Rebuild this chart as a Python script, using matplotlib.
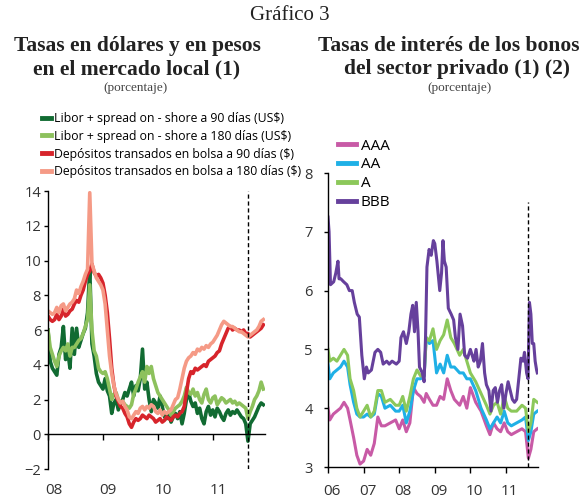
import numpy as np
import matplotlib.pyplot as plt

# ---- left chart: tasas en dolares y en pesos (grid every 0.04 yr, 2008.00-2011.92)
years_left = np.round(np.arange(99) * 0.04 + 2008.0, 2)

dep_90 = [6.8, 6.6, 6.5, 6.6, 6.9, 6.6, 6.8, 7.2, 6.8, 6.9, 7.1, 7.2, 7.5, 7.7, 7.6, 8.0, 8.3, 8.8, 9.2, 9.4, 9.8, 9.3, 9.1, 9.2, 9.0,
          8.7, 8.0, 7.0, 5.5, 3.8, 2.8, 2.2, 1.9, 1.6, 1.5, 1.2, 1.0, 0.6, 0.4, 0.7, 0.9, 0.8, 0.9, 1.1, 1.0, 0.9, 1.1, 1.0, 0.9, 0.7,
          0.8, 0.9, 0.7, 0.8, 1.0, 0.9, 0.8, 1.0, 1.1, 1.0, 1.2, 1.3, 1.6, 2.4, 3.2, 3.6, 3.5, 3.8, 3.7, 3.8, 3.9, 4.0, 3.9, 4.2, 4.3,
          4.4, 4.5, 4.7, 4.8, 5.2, 5.5, 5.8, 6.1, 6.2, 6.0, 6.1, 6.0, 6.0, 5.9, 6.0, 5.8, 5.8, 5.6, 5.7, 5.8, 5.9, 6.0, 6.1, 6.3]
dep_180 = [7.1, 7.0, 6.9, 7.0, 7.3, 7.0, 7.4, 7.5, 7.1, 7.3, 7.5, 7.6, 7.8, 8.3, 8.1, 8.5, 8.8, 9.2, 9.5, 13.9, 9.8, 9.4, 9.0, 8.8, 8.6,
           8.3, 7.5, 6.0, 4.5, 3.5, 2.8, 2.3, 2.0, 1.8, 1.9, 1.6, 1.4, 1.0, 0.9, 1.1, 1.3, 1.2, 1.5, 1.6, 1.4, 1.6, 1.5, 1.7, 1.6, 1.3,
           1.2, 1.4, 1.1, 1.3, 1.2, 1.3, 1.4, 1.7, 2.0, 2.1, 2.6, 3.2, 3.8, 4.2, 4.4, 4.5, 4.7, 4.6, 4.9, 4.8, 5.0, 4.9, 5.1, 5.0, 5.2,
           5.3, 5.5, 5.7, 6.0, 6.3, 6.5, 6.4, 6.3, 6.2, 6.2, 6.1, 6.0, 5.9, 5.9, 5.8, 5.7, 5.6, 5.7, 5.8, 5.9, 6.0, 6.2, 6.5, 6.6]
libor_90 = [6.0, 4.2, 3.8, 3.6, 3.4, 4.6, 5.0, 6.2, 4.3, 4.8, 3.8, 6.1, 4.6, 6.1, 5.0, 5.4, 5.8, 6.1, 7.0, 9.5, 5.2, 4.5, 3.5, 3.0, 2.8,
            2.6, 3.2, 2.5, 2.2, 1.2, 1.8, 2.0, 1.4, 1.8, 2.0, 2.4, 2.2, 2.6, 3.0, 2.2, 2.8, 2.5, 3.2, 4.9, 2.6, 3.0, 2.0, 1.3, 2.0, 1.8,
            1.5, 2.2, 1.6, 1.0, 0.9, 1.2, 0.7, 1.0, 1.2, 0.9, 1.3, 0.6, 1.2, 2.0, 2.4, 1.9, 1.6, 1.8, 1.2, 1.5, 0.9, 0.6, 1.3, 1.6, 1.1,
            1.4, 1.0, 1.5, 1.3, 1.0, 0.8, 1.2, 1.4, 1.1, 1.3, 1.2, 1.4, 1.2, 1.0, 0.9, 0.6, -0.4, 0.6, 0.8, 1.0, 1.3, 1.6, 1.8, 1.7]
libor_180 = [6.0, 5.0, 4.6, 4.2, 3.9, 4.5, 4.8, 5.0, 4.8, 5.2, 4.5, 5.0, 5.0, 5.2, 5.4, 5.5, 5.8, 6.2, 6.6, 8.6, 6.0, 4.8, 4.5, 3.8, 3.6,
             3.5, 3.6, 3.2, 2.6, 2.0, 2.3, 2.4, 2.0, 1.8, 1.9, 1.7, 1.6, 1.5, 1.7, 2.3, 2.6, 3.0, 3.3, 3.6, 3.0, 3.9, 3.5, 3.9, 3.2, 2.8,
             2.4, 2.2, 2.0, 1.8, 1.6, 1.4, 1.1, 1.3, 1.5, 1.6, 1.7, 1.9, 2.2, 2.7, 2.4, 2.3, 2.6, 2.2, 2.4, 2.0, 1.8, 2.3, 2.6, 2.0, 1.8,
             2.1, 2.2, 1.7, 1.9, 2.1, 2.0, 1.8, 1.9, 2.0, 1.8, 1.9, 1.7, 1.8, 1.7, 1.6, 1.5, 0.9, 1.3, 1.6, 2.0, 2.2, 2.5, 3.0, 2.6]

# ---- right chart: tasas de interes de bonos privados
years_bonos = [2006.00, 2006.05, 2006.15, 2006.25, 2006.35, 2006.45, 2006.55, 2006.62, 2006.72, 2006.81, 2006.90,
               2007.0, 2007.1, 2007.2, 2007.3, 2007.4, 2007.5, 2007.6, 2007.75, 2007.9,
               2008.0, 2008.1, 2008.2, 2008.3, 2008.4, 2008.5, 2008.6, 2008.7, 2008.76, 2008.85, 2008.95,
               2009.05, 2009.15, 2009.25, 2009.35, 2009.45, 2009.55, 2009.7, 2009.8, 2009.9,
               2010.0, 2010.15, 2010.3, 2010.45, 2010.55, 2010.65, 2010.75, 2010.85, 2010.95,
               2011.05, 2011.15, 2011.3, 2011.45, 2011.55, 2011.63, 2011.7, 2011.78, 2011.88]
bono_a = [5.0, 4.8, 4.85, 4.8, 4.9, 5.0, 4.9, 4.5, 4.3, 4.0, 3.85,
          3.95, 4.05, 3.85, 3.95, 4.3, 4.3, 4.1, 4.15, 4.05,
          4.05, 4.2, 3.95, 4.2, 4.5, 4.65, 4.55, 4.55, 5.2, 5.15, 5.35,
          5.0, 5.15, 5.25, 5.5, 5.2, 5.1, 4.9, 5.0, 4.8,
          4.6, 4.45, 4.25, 4.05, 3.9, 4.05, 4.1, 3.9, 4.2,
          4.0, 3.95, 3.95, 4.05, 4.0, 3.6, 3.75, 4.15, 4.1]
bono_aa = [4.75, 4.5, 4.6, 4.65, 4.7, 4.8, 4.7, 4.4, 4.1, 3.9, 3.85,
           3.85, 3.9, 3.85, 3.9, 4.25, 4.2, 4.0, 4.05, 3.95,
           3.95, 4.05, 3.75, 3.95, 4.3, 4.5, 4.5, 4.55, 5.2, 5.1, 5.15,
           4.6, 4.75, 4.6, 4.9, 4.7, 4.7, 4.6, 4.6, 4.5,
           4.5, 4.3, 4.0, 3.8, 3.65, 3.75, 3.85, 3.75, 3.95,
           3.75, 3.7, 3.75, 3.8, 3.85, 3.45, 3.6, 3.9, 3.95]
bono_aaa = [4.0, 3.8, 3.9, 3.95, 4.0, 4.1, 4.0, 3.8, 3.5, 3.2, 3.05,
            3.1, 3.3, 3.2, 3.4, 3.85, 3.7, 3.7, 3.75, 3.8,
            3.65, 3.8, 3.6, 3.75, 4.35, 4.25, 4.2, 4.1, 4.25, 4.15, 4.05,
            4.05, 4.2, 4.15, 4.5, 4.3, 4.15, 4.05, 4.2, 4.0,
            4.35, 4.1, 3.95, 3.7, 3.55, 3.75, 3.65, 3.6, 3.75,
            3.6, 3.55, 3.6, 3.65, 3.6, 3.15, 3.3, 3.6, 3.65]
years_bbb = [2006.00, 2006.03, 2006.07, 2006.16, 2006.22, 2006.28, 2006.31, 2006.36, 2006.44, 2006.53, 2006.60, 2006.68,
             2006.74, 2006.82, 2006.88, 2006.95, 2007.02, 2007.08, 2007.13, 2007.22, 2007.32, 2007.40, 2007.48, 2007.55,
             2007.65, 2007.72, 2007.80, 2007.92, 2008.0, 2008.05, 2008.12, 2008.2, 2008.27, 2008.33, 2008.38, 2008.43,
             2008.48, 2008.53, 2008.57, 2008.65, 2008.70, 2008.74, 2008.78, 2008.84, 2008.90, 2008.96, 2009.0, 2009.06,
             2009.14, 2009.19, 2009.23, 2009.27, 2009.32, 2009.38, 2009.46, 2009.53, 2009.58, 2009.65, 2009.71, 2009.78,
             2009.84, 2009.92, 2010.0, 2010.05, 2010.10, 2010.16, 2010.22, 2010.28, 2010.34, 2010.40, 2010.45, 2010.52,
             2010.58, 2010.64, 2010.70, 2010.76, 2010.82, 2010.88, 2010.94, 2011.0, 2011.06, 2011.12, 2011.18, 2011.24,
             2011.30, 2011.36, 2011.42, 2011.48, 2011.52, 2011.58, 2011.62, 2011.66, 2011.70, 2011.74, 2011.78, 2011.82,
             2011.86, 2011.88]
bono_bbb = [7.25, 7.0, 6.1, 6.15, 6.3, 6.5, 6.2, 6.2, 6.15, 6.1, 6.0, 6.0,
            5.8, 5.6, 5.55, 4.9, 4.5, 4.7, 4.6, 4.65, 4.95, 5.0, 4.95, 4.75,
            4.8, 4.75, 4.8, 4.75, 4.8, 5.2, 5.3, 5.1, 5.3, 5.6, 5.75, 5.3,
            5.8, 5.3, 4.7, 4.6, 4.45, 5.2, 6.4, 6.7, 6.6, 6.85, 6.8, 6.5,
            6.0, 6.3, 6.85, 6.5, 6.4, 5.7, 5.6, 5.5, 5.2, 5.0, 5.6, 5.4,
            4.9, 4.85, 5.0, 4.9, 4.8, 5.0, 4.7, 4.8, 5.1, 4.6, 4.4, 4.3,
            3.95, 4.3, 4.35, 4.1, 4.3, 4.4, 4.0, 4.25, 4.45, 4.3, 4.15, 4.1,
            4.15, 4.5, 4.85, 4.8, 4.95, 4.6, 4.5, 5.8, 5.6, 5.1, 5.1, 4.8,
            4.65, 4.6]

# ---- figure
SERIF = 'Liberation Serif'
SANS = 'Open Sans'
TXT = '#333333'

fig = plt.figure(figsize=(5.83, 4.98), dpi=100)

fig.text(290 / 583, 1 - 15 / 498, 'Gráfico 3', ha='center', va='center', family=SERIF, size=15, color='#222222')
for x, y, s in [(137, 46, 'Tasas en dólares y en pesos'), (137, 69, 'en el mercado local (1)'),
                (449, 46, 'Tasas de interés de los bonos'), (457, 69, 'del sector privado (1) (2)')]:
    fig.text(x / 583, 1 - y / 498, s, ha='center', va='center', family=SERIF, size=15.5, weight='bold', color='#222222')
for x in [136, 459]:
    fig.text(x / 583, 1 - 88 / 498, '(porcentaje)', ha='center', va='center', family=SERIF, size=9.5, color='#444444')


def style_axes(ax):
    for s in ['top', 'right']:
        ax.spines[s].set_visible(False)
    ax.spines['left'].set_linewidth(1.0)
    ax.spines['bottom'].set_linewidth(1.0)
    ax.tick_params(axis='both', colors='black', labelcolor=TXT, labelsize=10.5, width=1.0)
    for lab in ax.get_yticklabels():
        lab.set_family(SANS)


# left panel
ax1 = fig.add_axes([48 / 583, 1 - 469 / 498, 217 / 583, 278 / 498])
ax1.plot(years_left, libor_90, color='#116b32', lw=2.6, label='Libor + spread on - shore a 90 días (US$)')
ax1.plot(years_left, libor_180, color='#8dc15d', lw=2.6, label='Libor + spread on - shore a 180 días (US$)')
ax1.plot(years_left, dep_90, color='#d7242b', lw=2.6, label='Depósitos transados en bolsa a 90 días ($)')
ax1.plot(years_left, dep_180, color='#f59a86', lw=2.6, label='Depósitos transados en bolsa a 180 días ($)')
ax1.axvline(2011.64, color='black', lw=1.0, ls=(0, (3, 2)))
ax1.set_xlim(2008.0, 2011.95)
ax1.set_ylim(-2, 14)
ax1.set_yticks(range(-2, 15, 2))
ax1.spines['bottom'].set_position(('data', 0))
ax1.set_xticks([2008, 2009, 2010, 2011])
ax1.set_xticklabels([])
ax1.tick_params(axis='x', length=4, direction='out')
ax1.tick_params(axis='y', length=3, direction='out', pad=2)
style_axes(ax1)
for yr, lab in zip([2008, 2009, 2010, 2011], ['08', '09', '10', '11']):
    ax1.text(yr + 0.1, -0.077, lab, transform=ax1.get_xaxis_transform(), ha='center', va='center',
             family=SANS, size=11, color=TXT)
leg1 = ax1.legend(loc='upper left', bbox_to_anchor=(42 / 583, 1 - 112 / 498), bbox_transform=fig.transFigure,
                  frameon=False, handlelength=0.7, handletextpad=0.25, labelspacing=0.39, borderaxespad=0,
                  borderpad=0, prop={'family': SANS, 'size': 8.8})
for h in leg1.get_lines():
    h.set_linewidth(3.5)

# right panel
ax2 = fig.add_axes([328 / 583, 1 - 467 / 498, 210 / 583, 294 / 498])
ax2.plot(years_bonos, bono_aaa, color='#c85aa6', lw=2.2, label='AAA')
ax2.plot(years_bonos, bono_aa, color='#1fb0e6', lw=2.2, label='AA')
ax2.plot(years_bonos, bono_a, color='#8cc85a', lw=2.2, label='A')
ax2.plot(years_bbb, bono_bbb, color='#66409c', lw=2.2, label='BBB')
ax2.axvline(2011.61, ymax=(7.5 - 3) / 5, color='black', lw=1.0, ls=(0, (3, 2)))
ax2.set_xlim(2006.0, 2011.9)
ax2.set_ylim(3, 8)
ax2.set_yticks(range(3, 9))
ax2.set_xticks([2006, 2007, 2008, 2009, 2010, 2011])
ax2.set_xticklabels([])
ax2.tick_params(axis='x', length=4, direction='out')
ax2.tick_params(axis='y', length=3, direction='out', pad=8)
style_axes(ax2)
for yr, lab in zip(range(2006, 2012), ['06', '07', '08', '09', '10', '11']):
    ax2.text(yr + 0.11, -0.085, lab, transform=ax2.get_xaxis_transform(), ha='center', va='center',
             family=SANS, size=11, color=TXT)
leg2 = ax2.legend(loc='upper left', bbox_to_anchor=(338 / 583, 1 - 138.5 / 498), bbox_transform=fig.transFigure,
                  frameon=False, handlelength=1.2, handletextpad=0.3, labelspacing=0.26, borderaxespad=0,
                  borderpad=0, prop={'family': SANS, 'size': 11})
for h in leg2.get_lines():
    h.set_linewidth(3.5)

fig.savefig('out.png', dpi=100)
